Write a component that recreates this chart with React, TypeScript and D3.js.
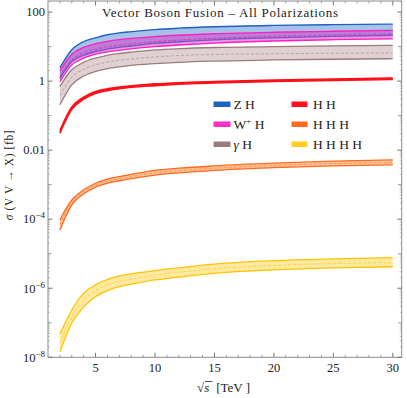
import React from "react";
import { scaleLinear, scaleLog, area, line, curveMonotoneX } from "d3";

// sqrt(s) in TeV
const energies = [2, 3, 4, 5, 6, 7, 8, 10, 12, 15, 20, 25, 30];

const zhUpper = [2.45, 8.1, 14, 18, 22, 25, 27, 31, 34, 37.5, 41, 43, 44.5];
const zhLower = [1.2, 3.7, 5.6, 7.2, 8.4, 9.5, 10.4, 12.3, 13.8, 15.6, 17.9, 19.8, 21.3];
const zhCentral = [1.35, 4.1, 6.3, 8.1, 9.4, 10.6, 11.6, 13.7, 15.4, 17.4, 20, 22, 23.6];

const whUpper = [2.0, 6.0, 9.5, 12.1, 14.2, 15.9, 17.2, 19.5, 21.3, 23.5, 26, 27.8, 29.3];
const whLower = [0.95, 2.95, 4.6, 6.0, 7.0, 7.8, 8.6, 10.0, 11.1, 12.6, 14.5, 15.8, 16.8];
const whCentral = [1.4, 4.2, 6.6, 8.5, 10.0, 11.2, 12.2, 14.0, 15.4, 17.2, 19.5, 20.6, 21.5];

const ahUpper = [0.7, 2.13, 3.5, 4.65, 5.6, 6.3, 6.9, 8.0, 8.7, 9.4, 10.0, 10.5, 10.8];
const ahLower = [0.206, 0.78, 1.4, 1.9, 2.3, 2.6, 2.85, 3.2, 3.5, 3.8, 4.1, 4.3, 4.45];
const ahCentral = [0.38, 1.3, 2.2, 2.95, 3.55, 4.0, 4.4, 5.0, 5.5, 5.9, 6.2, 6.4, 6.5];

const hhUpper = [0.037, 0.178, 0.345, 0.5, 0.6, 0.67, 0.73, 0.83, 0.9, 0.97, 1.07, 1.15, 1.22];
const hhLower = [0.031, 0.152, 0.3, 0.44, 0.53, 0.6, 0.66, 0.74, 0.81, 0.88, 0.97, 1.05, 1.12];
const hhCentral = [0.034, 0.165, 0.32, 0.47, 0.56, 0.63, 0.69, 0.78, 0.85, 0.92, 1.02, 1.1, 1.17];

const hhhUpper = [9.5e-5, 3.6e-4, 7.1e-4, 1.1e-3, 1.45e-3, 1.72e-3, 2.0e-3, 2.6e-3, 3.0e-3, 3.5e-3, 4.2e-3, 4.8e-3, 5.2e-3];
const hhhLower = [4.9e-5, 2.6e-4, 5.4e-4, 8.5e-4, 1.1e-3, 1.3e-3, 1.5e-3, 1.9e-3, 2.2e-3, 2.6e-3, 3.1e-3, 3.5e-3, 3.75e-3];
const hhhCentral = [6.8e-5, 3.05e-4, 6.2e-4, 9.8e-4, 1.27e-3, 1.5e-3, 1.72e-3, 2.2e-3, 2.55e-3, 3.0e-3, 3.6e-3, 4.1e-3, 4.4e-3];

const hhhhUpper = [4.7e-8, 2.35e-7, 7.2e-7, 1.25e-6, 1.8e-6, 2.27e-6, 2.6e-6, 3.24e-6, 3.9e-6, 5.0e-6, 6.3e-6, 7.1e-6, 7.7e-6];
const hhhhLower = [1.45e-8, 9.7e-8, 2.9e-7, 5.7e-7, 8.5e-7, 1.11e-6, 1.3e-6, 1.74e-6, 2.1e-6, 2.7e-6, 3.4e-6, 3.9e-6, 4.2e-6];
const hhhhCentral = [2.6e-8, 1.5e-7, 4.6e-7, 8.5e-7, 1.25e-6, 1.6e-6, 1.85e-6, 2.4e-6, 2.9e-6, 3.7e-6, 4.6e-6, 5.2e-6, 5.5e-6];

const xTicks = [5, 10, 15, 20, 25, 30];
const yLabelExps = [2, 0, -2, -4, -6, -8];

const series = [
  { key: "hhhh", upper: hhhhUpper, lower: hhhhLower, central: hhhhCentral, stroke: "#ffc400", fill: "#ffe38a", op: 0.8, sw: 1.3 },
  { key: "hhh", upper: hhhUpper, lower: hhhLower, central: hhhCentral, stroke: "#ff6a1e", fill: "#ffb47e", op: 0.8, sw: 1.3 },
  { key: "hh", upper: hhUpper, lower: hhLower, central: hhCentral, stroke: "#ff1018", fill: "#ff1018", op: 1, sw: 1.6 },
  { key: "ah", upper: ahUpper, lower: ahLower, central: ahCentral, stroke: "#9a7c7c", fill: "#dccccc", op: 0.9, sw: 1.3 },
  { key: "zh", upper: zhUpper, lower: zhLower, central: zhCentral, stroke: "#1f5fc0", fill: "#9dbbe6", op: 0.9, sw: 1.3 },
  { key: "wh", upper: whUpper, lower: whLower, central: whCentral, stroke: "#ff1ec0", fill: "#d046c8", op: 0.55, sw: 1.3 },
];

const legendLeft = [
  { color: "#1f64c2", label: "Z H" },
  { color: "#ff2ec6", label: "W+ H" },
  { color: "#9b7b7b", label: "γ H" },
];
const legendRight = [
  { color: "#ff1020", label: "H H" },
  { color: "#ff6a20", label: "H H H" },
  { color: "#ffd020", label: "H H H H" },
];

const W = 407;
const H = 398;
const L = 48, R = 401.7, T = 1, B = 357.3;
const font = "'Liberation Serif', 'DejaVu Serif', serif";

const fmtSup = (s: string) => s.replace("-", "−");

export default function App() {
  const x = scaleLinear().domain([1, 30.75]).range([L, R]);
  const y = scaleLog().domain([1e-8, Math.pow(10, 2.32)]).range([B, T]);

  const minorX: number[] = [];
  for (let v = 2; v <= 30; v++) if (v % 5 !== 0) minorX.push(v);

  const minorY: number[] = [];
  for (let e = -8; e <= 2; e++) {
    for (let k = 2; k <= 9; k++) {
      const v = k * Math.pow(10, e);
      if (v < y.domain()[1]) minorY.push(v);
    }
  }
  const oddY = [-7, -5, -3, -1, 1].map((e) => Math.pow(10, e));

  const legendText = (label: string) => {
    if (label.startsWith("W+")) {
      return (
        <>
          W<tspan fontSize={9} dy={-5}>+</tspan>
          <tspan dy={5}> H</tspan>
        </>
      );
    }
    if (label.startsWith("γ")) {
      return (
        <>
          <tspan fontStyle="italic">γ</tspan> H
        </>
      );
    }
    return label;
  };

  return (
    <svg width={W} height={H} style={{ position: "absolute", left: 0, top: 0, background: "#fff" }} fontFamily={font}>
      <defs>
        <clipPath id="plot">
          <rect x={L} y={T} width={R - L} height={B - T} />
        </clipPath>
      </defs>

      <g clipPath="url(#plot)">
        {series.map((s) => {
          const pts = energies.map((e, i) => ({ e, u: s.upper[i], l: s.lower[i], c: s.central[i] }));
          const band = area<any>()
            .x((d) => x(d.e))
            .y0((d) => y(d.l))
            .y1((d) => y(d.u))
            .curve(curveMonotoneX);
          const mk = (k: "u" | "l" | "c") =>
            line<any>()
              .x((d) => x(d.e))
              .y((d) => y(d[k]))
              .curve(curveMonotoneX)(pts) as string;
          return (
            <g key={s.key}>
              <path d={band(pts) as string} fill={s.fill} fillOpacity={s.op} stroke="none" />
              <path d={mk("u")} fill="none" stroke={s.stroke} strokeWidth={s.sw} />
              <path d={mk("l")} fill="none" stroke={s.stroke} strokeWidth={s.sw} />
              {s.key !== "hh" && (
                <path d={mk("c")} fill="none" stroke={s.stroke} strokeOpacity={0.7} strokeWidth={0.8} strokeDasharray="3,2" />
              )}
            </g>
          );
        })}
      </g>

      {/* frame */}
      <rect x={L} y={T} width={R - L} height={B - T} fill="none" stroke="#8a8a8a" strokeWidth={1} />

      {/* x ticks */}
      {xTicks.map((t) => (
        <g key={"xt" + t}>
          <line x1={x(t)} x2={x(t)} y1={B} y2={B - 4.5} stroke="#777" />
          <line x1={x(t)} x2={x(t)} y1={T} y2={T + 4.5} stroke="#777" />
          <text x={x(t)} y={371.5} fontSize={12.5} textAnchor="middle" fill="#222">
            {t}
          </text>
        </g>
      ))}
      {minorX.map((t) => (
        <g key={"xm" + t}>
          <line x1={x(t)} x2={x(t)} y1={B} y2={B - 2.5} stroke="#888" strokeWidth={0.8} />
          <line x1={x(t)} x2={x(t)} y1={T} y2={T + 2.5} stroke="#888" strokeWidth={0.8} />
        </g>
      ))}

      {/* y ticks */}
      {yLabelExps.map((e) => {
        const v = Math.pow(10, e);
        const yy = y(v);
        let label: React.ReactNode;
        if (e === 2) label = "100";
        else if (e === 0) label = "1";
        else if (e === -2) label = "0.01";
        else
          label = (
            <>
              10<tspan fontSize={9} dy={-5}>{fmtSup(String(e))}</tspan>
            </>
          );
        return (
          <g key={"yt" + e}>
            <line x1={L} x2={L + 4.5} y1={yy} y2={yy} stroke="#777" />
            <line x1={R} x2={R - 4.5} y1={yy} y2={yy} stroke="#777" />
            <text x={45} y={yy + 4.3} fontSize={12.5} textAnchor="end" fill="#222">
              {label}
            </text>
          </g>
        );
      })}
      {oddY.map((v, i) => (
        <g key={"yo" + i}>
          <line x1={L} x2={L + 3.5} y1={y(v)} y2={y(v)} stroke="#888" strokeWidth={0.9} />
          <line x1={R} x2={R - 3.5} y1={y(v)} y2={y(v)} stroke="#888" strokeWidth={0.9} />
        </g>
      ))}
      {minorY.map((v, i) => (
        <g key={"ym" + i}>
          <line x1={L} x2={L + 2} y1={y(v)} y2={y(v)} stroke="#999" strokeWidth={0.6} />
          <line x1={R} x2={R - 2} y1={y(v)} y2={y(v)} stroke="#999" strokeWidth={0.6} />
        </g>
      ))}

      {/* title */}
      <text x={220} y={17} fontSize={13} textAnchor="middle" fill="#222" textLength={236}>
        Vector Boson Fusion – All Polarizations
      </text>

      {/* legend */}
      {legendLeft.map((d, i) => (
        <g key={"ll" + i}>
          <rect x={213.5} y={101.5 + i * 20} width={17} height={5.5} fill={d.color} />
          <text x={233.5} y={108.5 + i * 20} fontSize={13.5} fill="#222">
            {legendText(d.label)}
          </text>
        </g>
      ))}
      {legendRight.map((d, i) => (
        <g key={"lr" + i}>
          <rect x={291.5} y={101.5 + i * 20} width={16} height={5.5} fill={d.color} />
          <text x={313} y={108.5 + i * 20} fontSize={13.5} fill="#222">
            {d.label}
          </text>
        </g>
      ))}

      {/* axis labels */}
      <text
        transform="translate(13,175) rotate(-90)"
        fontSize={11.5}
        textAnchor="middle"
        fill="#222"
        letterSpacing={0.6}
      >
        <tspan fontStyle="italic">σ</tspan> (V V → X) [fb]
      </text>
      <text x={197} y={392} fontSize={13} fill="#222">
        √<tspan fontStyle="italic">s</tspan>
        <tspan dx={7}>[TeV ]</tspan>
      </text>
      <line x1={205} x2={212.5} y1={381.5} y2={381.5} stroke="#222" strokeWidth={0.8} />
    </svg>
  );
}
